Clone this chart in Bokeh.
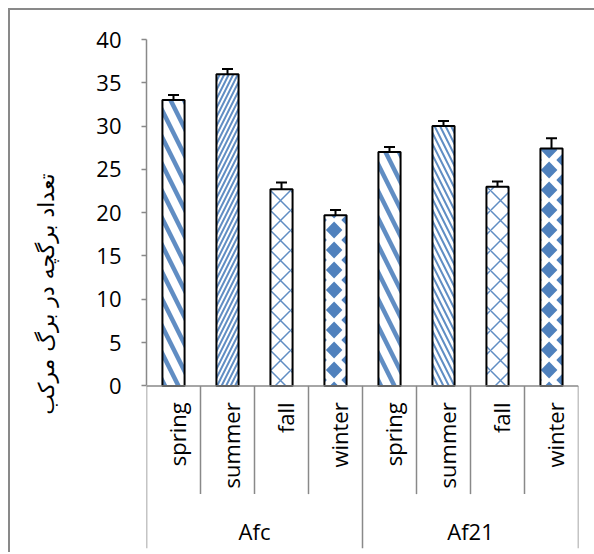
import base64
from math import pi

from bokeh.plotting import figure
from bokeh.models import (ColumnDataSource, FactorRange, Range1d, FixedTicker,
                          Whisker, TeeHead, LinearAxis, ImageURLTexture)
from bokeh.core.properties import value
from bokeh.embed import file_html
from bokeh.resources import INLINE

# ---------------- data ----------------
groups = ["Afc", "Af21"]
seasons = ["spring", "summer", "fall", "winter"]
afc_values = [33.0, 36.0, 22.7, 19.7]
afc_errors = [0.6, 0.6, 0.8, 0.6]
af21_values = [27.0, 30.0, 23.0, 27.4]
af21_errors = [0.6, 0.6, 0.6, 1.2]
y_ticks = [0, 5, 10, 15, 20, 25, 30, 35, 40]
y_title = "تعداد برگچه در برگ مرکب"

# ---------------- styles ----------------
BLUE = "#4F81BD"
GREY = "#898989"
FONT = "Open Sans"
FS = "22px"

# "solid diamond" texture tile: one column of diamonds with offset side columns
TW, TH = 215, 20
CX, SIDE, HW, HH = 109.1, 15.5, 8.3, 8.6
cols = [(CX, 0.0), (CX - SIDE, 10.0), (CX + SIDE, 10.0)]
polys = []
for cx, cy in cols:
    for ky in (-1, 0, 1):
        y0 = cy + ky * TH
        polys.append('<polygon points="%.2f,%.2f %.2f,%.2f %.2f,%.2f %.2f,%.2f" fill="%s"/>'
                     % (cx, y0 - HH, cx + HW, y0, cx, y0 + HH, cx - HW, y0, BLUE))
diamond_svg = ('<svg xmlns="http://www.w3.org/2000/svg" width="%d" height="%d">' % (TW, TH)
               + "".join(polys) + "</svg>")
diamond_url = "data:image/svg+xml;base64," + base64.b64encode(diamond_svg.encode()).decode()

hatch_style = {
    ("Afc", "spring"): ("\\", 27, 4.5),
    ("Afc", "summer"): ("/", 9, 2.0),
    ("Afc", "fall"): ("x", 20, 1.5),
    ("Afc", "winter"): ("D", 20, 1.0),
    ("Af21", "spring"): ("\\", 27, 4.5),
    ("Af21", "summer"): ("\\", 11, 2.0),
    ("Af21", "fall"): ("x", 20, 1.5),
    ("Af21", "winter"): ("D", 20, 1.0),
}

factors = [(g, s) for g in groups for s in seasons]
vals = afc_values + af21_values
errs = afc_errors + af21_errors

src = ColumnDataSource(dict(
    x=factors,
    top=vals,
    upper=[v + e for v, e in zip(vals, errs)],
    season=[f[1] for f in factors],
    hp=[hatch_style[f][0] for f in factors],
    hs=[hatch_style[f][1] for f in factors],
    hw=[hatch_style[f][2] for f in factors],
))

# layout (data units below zero hold the category label zone)
Y_MIN = -18.78
SUB_SEP_END = -12.5
CAT_LABEL_TOP = -1.9
GROUP_LABEL_Y = -16.8
TITLE_LO = 3.6

n = len(factors)
x_range = FactorRange(*factors, range_padding=0, factor_padding=0, group_padding=0,
                      subgroup_padding=0)

p = figure(width=584, height=542, x_range=x_range, y_range=Range1d(Y_MIN, 40),
           output_backend="svg", toolbar_location=None, x_axis_location=None,
           min_border_left=136, min_border_right=18, min_border_top=29,
           min_border_bottom=6)
p.styles = {"margin-left": "8px", "margin-top": "8px",
            "border-left": "2px solid " + GREY, "border-top": "2px solid " + GREY,
            "box-sizing": "content-box"}
p.outline_line_color = None
p.xgrid.visible = False
p.ygrid.visible = False
p.background_fill_color = "white"

# y axis
ya = p.yaxis[0]
ya.bounds = (0, 40)
ya.ticker = FixedTicker(ticks=y_ticks)
ya.minor_tick_line_color = None
ya.major_tick_in = 0
ya.major_tick_out = 5
ya.major_tick_line_color = GREY
ya.major_tick_line_width = 1.5
ya.axis_line_color = GREY
ya.axis_line_width = 1.5
ya.major_label_text_font = FONT
ya.major_label_text_font_size = FS
ya.major_label_text_color = "black"
ya.major_label_standoff = 20

# y title carried by a second (tick-less) left axis so it sits where the original does
ta = LinearAxis(ticker=FixedTicker(ticks=[]), bounds=(TITLE_LO, 40),
                axis_line_color=None, major_tick_line_color=None,
                minor_tick_line_color=None, major_tick_out=0, major_tick_in=0,
                major_label_text_font_size="0px", major_label_standoff=0,
                axis_label=y_title, axis_label_standoff=35,
                axis_label_text_font="DejaVu Sans", axis_label_text_font_size="22px",
                axis_label_text_font_style="normal", axis_label_text_color="black")
p.add_layout(ta, "left")

# bars
p.vbar(x="x", top="top", bottom=0, width=0.41, source=src,
       fill_color="white", line_color="black", line_width=2,
       hatch_pattern="hp", hatch_scale="hs", hatch_weight="hw",
       hatch_color=BLUE, hatch_alpha=0.9,
       hatch_extra={"D": ImageURLTexture(url=diamond_url, repetition="repeat")})

# error bars (upper only)
p.add_layout(Whisker(source=src, base="x", lower="top", upper="upper",
                     dimension="height", line_color="black", line_width=2,
                     lower_head=None,
                     upper_head=TeeHead(size=11, line_color="black", line_width=2)))

# category axis line and separators
p.segment(x0=[0], y0=[0], x1=[n], y1=[0], line_color=GREY, line_width=1.5)
bounds = list(range(n + 1))
sep_end = [Y_MIN if b % len(seasons) == 0 else SUB_SEP_END for b in bounds]
p.segment(x0=bounds, y0=[0] * len(bounds), x1=bounds, y1=sep_end,
          line_color=GREY, line_width=1.5)

# category labels
p.text(x="x", y=CAT_LABEL_TOP, text="season", source=src, angle=pi / 2,
       text_align="right", text_baseline="middle", x_offset=3,
       text_font=value(FONT), text_font_size=FS, text_color="black")

# group labels
p.text(x=groups, y=[GROUP_LABEL_Y] * len(groups), text=groups,
       text_align="center", text_baseline="middle",
       text_font=value(FONT), text_font_size=FS, text_color="black")

open("out.html", "w").write(file_html(p, INLINE))
